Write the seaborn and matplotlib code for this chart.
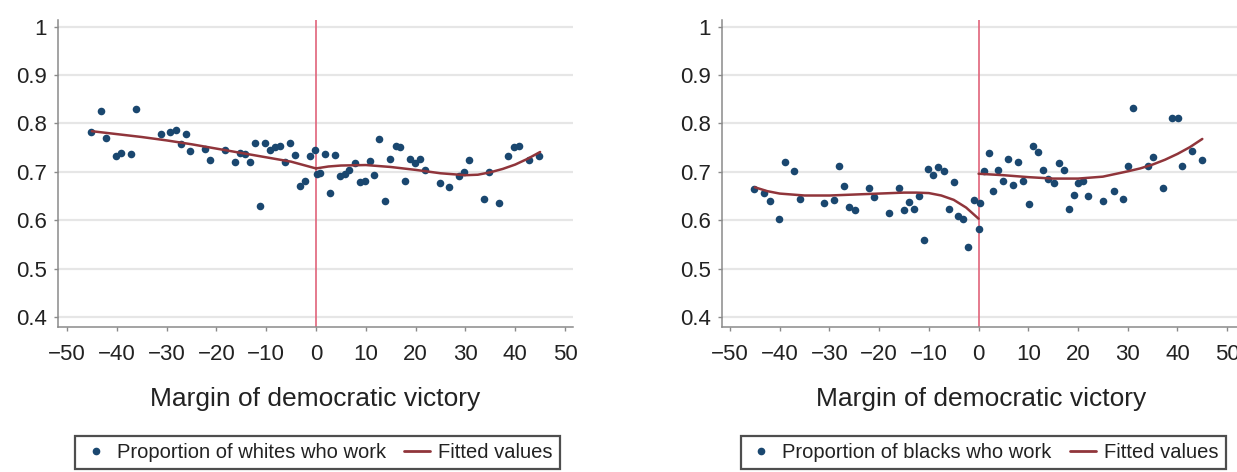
import matplotlib
matplotlib.use("Agg")
import matplotlib.pyplot as plt
from matplotlib.lines import Line2D
import numpy as np
import pandas as pd
import seaborn as sns

# Scatter values (binned margins)
WHITE_MARGIN = [-45.2, -43.1, -42.2, -40.2, -39.2, -37.2, -36.2, -31.2, -29.3, -28.2,
                -27.2, -26.2, -25.2, -22.2, -21.2, -18.2, -16.2, -15.2, -14.3, -13.2,
                -12.2, -11.2, -10.2, -9.2, -8.3, -7.2, -6.2, -5.2, -4.2, -3.3,
                -2.3, -1.2, -0.2, 0.2, 0.9, 1.8, 2.8, 3.8, 4.8, 5.8,
                6.7, 7.8, 8.8, 9.9, 10.8, 11.7, 12.7, 13.8, 14.8, 16.0,
                16.9, 17.8, 18.8, 19.8, 20.8, 21.8, 24.8, 26.8, 28.8, 29.8,
                30.8, 33.8, 34.8, 36.8, 38.6, 39.8, 40.8, 42.8, 44.8]
WHITE_WORK = [0.783, 0.826, 0.770, 0.733, 0.739, 0.737, 0.829, 0.778, 0.783, 0.787,
              0.757, 0.779, 0.743, 0.748, 0.724, 0.746, 0.721, 0.739, 0.737, 0.721,
              0.759, 0.630, 0.760, 0.745, 0.751, 0.754, 0.721, 0.760, 0.735, 0.671,
              0.681, 0.733, 0.746, 0.695, 0.698, 0.736, 0.657, 0.735, 0.691, 0.695,
              0.703, 0.719, 0.678, 0.680, 0.722, 0.693, 0.767, 0.640, 0.726, 0.753,
              0.751, 0.681, 0.726, 0.719, 0.727, 0.704, 0.676, 0.669, 0.691, 0.700,
              0.724, 0.643, 0.700, 0.635, 0.733, 0.751, 0.753, 0.724, 0.733]

BLACK_MARGIN = [-45.1, -43.1, -42.0, -40.1, -39.0, -37.1, -36.0, -31.0, -29.0, -28.0,
                -27.0, -26.0, -24.9, -22.1, -21.1, -18.1, -16.0, -15.0, -14.0, -13.0,
                -12.0, -11.0, -10.1, -9.1, -8.1, -7.0, -6.0, -4.9, -4.1, -3.1,
                -2.1, -1.0, 0.0, 0.2, 1.0, 2.1, 3.0, 4.0, 5.0, 6.0,
                7.0, 8.0, 9.0, 10.1, 10.9, 11.9, 12.9, 13.9, 15.1, 16.1,
                17.1, 18.1, 19.1, 20.0, 21.1, 22.0, 25.0, 27.2, 29.1, 30.1,
                31.1, 34.1, 35.1, 37.1, 39.0, 40.1, 41.0, 43.0, 45.0]
BLACK_WORK = [0.665, 0.656, 0.639, 0.602, 0.720, 0.701, 0.643, 0.636, 0.641, 0.713,
              0.671, 0.627, 0.622, 0.666, 0.648, 0.615, 0.666, 0.622, 0.638, 0.623,
              0.650, 0.559, 0.706, 0.693, 0.710, 0.701, 0.623, 0.679, 0.608, 0.602,
              0.545, 0.641, 0.581, 0.636, 0.701, 0.739, 0.660, 0.703, 0.680, 0.727,
              0.672, 0.721, 0.680, 0.634, 0.754, 0.741, 0.703, 0.686, 0.677, 0.718,
              0.703, 0.623, 0.653, 0.677, 0.680, 0.651, 0.639, 0.660, 0.643, 0.713,
              0.832, 0.713, 0.730, 0.666, 0.811, 0.811, 0.713, 0.744, 0.725]

# Fitted values, read separately on each side of the cutoff
WHITE_FIT_L_X = [-45, -40, -35, -30, -25, -20, -15, -10, -5, -2.5, 0]
WHITE_FIT_L_Y = [0.784, 0.778, 0.772, 0.765, 0.757, 0.748, 0.739, 0.730, 0.721, 0.714, 0.707]
WHITE_FIT_R_X = [0, 2.5, 5, 10, 15, 20, 25, 27.5, 30, 32.5, 35, 37.5, 40, 42.5, 45]
WHITE_FIT_R_Y = [0.707, 0.711, 0.713, 0.714, 0.710, 0.704, 0.697, 0.695, 0.693, 0.694,
                 0.699, 0.706, 0.715, 0.727, 0.741]

BLACK_FIT_L_X = [-45, -42.5, -40, -35, -30, -25, -20, -15, -12.5, -10, -7.5, -5, -2.5, 0]
BLACK_FIT_L_Y = [0.668, 0.660, 0.655, 0.651, 0.651, 0.653, 0.655, 0.657, 0.657, 0.656,
                 0.651, 0.642, 0.626, 0.603]
BLACK_FIT_R_X = [0, 5, 10, 15, 20, 25, 30, 32.5, 35, 37.5, 40, 42.5, 45]
BLACK_FIT_R_Y = [0.696, 0.693, 0.689, 0.686, 0.686, 0.690, 0.701, 0.707, 0.715, 0.725,
                 0.737, 0.751, 0.768]

X_TICKS = [-50, -40, -30, -20, -10, 0, 10, 20, 30, 40, 50]
Y_TICKS = [0.4, 0.5, 0.6, 0.7, 0.8, 0.9, 1.0]
Y_TICK_LABELS = ["0.4", "0.5", "0.6", "0.7", "0.8", "0.9", "1"]
X_LABEL = "Margin of democratic victory"

NAVY = "#1a476f"
MAROON = "#90353b"
CUTOFF = "#e0647a"
SPINE = "#8a8a8a"
TEXT = "#222222"


def draw_panel(ax, margin, work, fit_l, fit_r, xlim):
    dots = pd.DataFrame({"margin": margin, "work": work})
    left = pd.DataFrame({"margin": fit_l[0], "fit": fit_l[1]})
    right = pd.DataFrame({"margin": fit_r[0], "fit": fit_r[1]})

    ax.yaxis.grid(True, color="#e6e6e6", lw=1.6)
    ax.set_axisbelow(True)
    ax.axvline(0, color=CUTOFF, lw=1.2, zorder=1.5)
    sns.scatterplot(data=dots, x="margin", y="work", ax=ax, color=NAVY,
                    s=30, linewidth=0, zorder=3)
    sns.lineplot(data=left, x="margin", y="fit", ax=ax, color=MAROON, lw=1.8, zorder=4)
    sns.lineplot(data=right, x="margin", y="fit", ax=ax, color=MAROON, lw=1.8, zorder=4)

    ax.set_xlim(*xlim)
    ax.set_ylim(0.379, 1.014)
    ax.set_xticks(X_TICKS)
    ax.set_yticks(Y_TICKS)
    ax.set_yticklabels(Y_TICK_LABELS)
    ax.tick_params(axis="both", bottom=True, left=True, length=3, width=1,
                   color=SPINE, labelsize=16, labelcolor=TEXT)
    ax.tick_params(axis="x", pad=9)
    ax.tick_params(axis="y", pad=5)
    for side in ["top", "right"]:
        ax.spines[side].set_visible(False)
    for side in ["left", "bottom"]:
        ax.spines[side].set_color(SPINE)
        ax.spines[side].set_linewidth(1.1)
    ax.set_xlabel(X_LABEL, fontsize=19, color=TEXT, labelpad=16)
    ax.set_ylabel("")


def add_legend(fig, label, center_x):
    handles = [
        Line2D([], [], ls="", marker="o", ms=4.5, color=NAVY, label=label),
        Line2D([], [], color=MAROON, lw=2, label="Fitted values"),
    ]
    leg = fig.legend(handles=handles, loc="center", ncol=2,
                     bbox_to_anchor=(center_x, 0.042), bbox_transform=fig.transFigure,
                     fontsize=14.5, frameon=True, fancybox=False, handlelength=1.3,
                     handletextpad=0.4, columnspacing=0.9, borderpad=0.35)
    frame = leg.get_frame()
    frame.set_edgecolor("#222222")
    frame.set_linewidth(1.6)
    for t in leg.get_texts():
        t.set_color(TEXT)


def main():
    sns.set_theme(style="white")
    plt.rcParams["font.family"] = ["Liberation Sans", "DejaVu Sans"]

    fig = plt.figure(figsize=(12.37, 4.72), dpi=100)
    ax1 = fig.add_axes([0.0469, 0.3072, 0.4163, 0.6504])
    ax2 = fig.add_axes([0.5837, 0.3072, 0.4188, 0.6504])

    draw_panel(ax1, WHITE_MARGIN, WHITE_WORK, (WHITE_FIT_L_X, WHITE_FIT_L_Y),
               (WHITE_FIT_R_X, WHITE_FIT_R_Y), (-51.8, 51.6))
    draw_panel(ax2, BLACK_MARGIN, BLACK_WORK, (BLACK_FIT_L_X, BLACK_FIT_L_Y),
               (BLACK_FIT_R_X, BLACK_FIT_R_Y), (-51.6, 52.6))

    add_legend(fig, "Proportion of whites who work", 0.2567)
    add_legend(fig, "Proportion of blacks who work", 0.795)

    fig.savefig("out.png", dpi=100)
    plt.close(fig)


if __name__ == "__main__":
    main()
